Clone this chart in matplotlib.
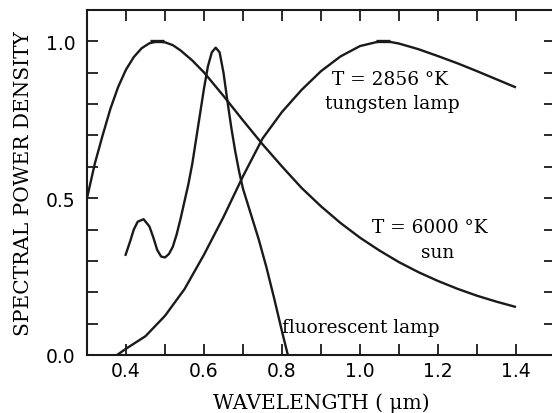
import matplotlib
matplotlib.use("Agg")
import matplotlib.pyplot as plt
from matplotlib.ticker import MultipleLocator, FixedLocator

# ---- data ----
sun_w = [0.30, 0.32, 0.34, 0.36, 0.38, 0.40, 0.42, 0.44, 0.46, 0.48, 0.50, 0.52,
         0.54, 0.57, 0.60, 0.65, 0.70, 0.75, 0.80, 0.85, 0.90, 0.95, 1.00, 1.05,
         1.10, 1.15, 1.20, 1.25, 1.30, 1.35, 1.40]
sun_v = [0.50, 0.61, 0.70, 0.785, 0.855, 0.91, 0.95, 0.978, 0.994, 1.0, 0.997, 0.988,
         0.971, 0.939, 0.901, 0.826, 0.748, 0.672, 0.601, 0.533, 0.474, 0.421, 0.374, 0.333,
         0.296, 0.264, 0.236, 0.211, 0.189, 0.170, 0.153]

tung_w = [0.377, 0.40, 0.45, 0.50, 0.55, 0.60, 0.65, 0.70, 0.75, 0.80, 0.85, 0.90,
          0.95, 1.00, 1.05, 1.07, 1.10, 1.15, 1.20, 1.25, 1.30, 1.35, 1.40]
tung_v = [0.0, 0.02, 0.06, 0.125, 0.21, 0.32, 0.44, 0.57, 0.69, 0.775, 0.845, 0.905,
          0.952, 0.985, 1.0, 1.0, 0.993, 0.975, 0.953, 0.93, 0.905, 0.879, 0.853]

fl_w = [0.398, 0.41, 0.42, 0.43, 0.445, 0.46, 0.47, 0.48, 0.49, 0.50, 0.51, 0.52,
        0.53, 0.54, 0.55, 0.56, 0.57, 0.58, 0.59, 0.60, 0.61, 0.62, 0.63, 0.64,
        0.65, 0.66, 0.67, 0.68, 0.69, 0.70, 0.72, 0.74, 0.76, 0.78, 0.80, 0.815]
fl_v = [0.316, 0.36, 0.40, 0.425, 0.433, 0.41, 0.375, 0.335, 0.314, 0.311, 0.322, 0.345,
        0.385, 0.435, 0.49, 0.545, 0.61, 0.69, 0.77, 0.85, 0.92, 0.965, 0.98, 0.965,
        0.90, 0.81, 0.725, 0.65, 0.585, 0.53, 0.45, 0.37, 0.28, 0.18, 0.075, 0.0]

peak_w = [0.48, 1.06]
peak_v = [1.0, 1.0]

x_ticks = [0.4, 0.6, 0.8, 1.0, 1.2, 1.4]
y_ticks = [0.0, 0.5, 1.0]

# ---- figure ----
plt.rcParams["font.family"] = ["DejaVu Sans"]
fig = plt.figure(figsize=(5.52, 4.14), dpi=100)
ax = fig.add_axes([87/552, 58/414, 468/552, 345/414])
ax.set_xlim(0.3, 1.5)
ax.set_ylim(0.0, 1.1)

lc = "#1a1a1a"
lw = 1.7
for w, v in ((sun_w, sun_v), (tung_w, tung_v), (fl_w, fl_v)):
    ax.plot(w, v, color=lc, lw=lw, solid_capstyle="butt", solid_joinstyle="round")
ax.plot(peak_w, peak_v, ls="none", marker="_", ms=10, mew=2.4, color=lc)

serif = ["DejaVu Serif"]

ax.xaxis.set_major_locator(FixedLocator(x_ticks))
ax.xaxis.set_minor_locator(MultipleLocator(0.1))
ax.yaxis.set_major_locator(FixedLocator(y_ticks))
ax.yaxis.set_minor_locator(MultipleLocator(0.1))
ax.set_xticklabels([f"{t:.1f}" for t in x_ticks], family="DejaVu Sans", fontsize=13.5)
ax.set_yticklabels([f"{t:.1f}" for t in y_ticks], family="DejaVu Sans", fontsize=13.5)
ax.tick_params(which="both", direction="in", top=True, right=True,
               length=8, width=1.3, color=lc)
ax.tick_params(axis="x", pad=4.5)
ax.tick_params(axis="y", pad=8.5)
for s in ax.spines.values():
    s.set_linewidth(1.5)
    s.set_color(lc)

ax.set_xlabel("WAVELENGTH ( μm)", family=serif, fontsize=14.5, labelpad=9)
ax.set_ylabel("SPECTRAL POWER DENSITY", family=serif, fontsize=14.5, labelpad=9)

fs = 13.3
ax.text(1.077, 0.880, "T = 2856 °K", family=serif, fontsize=fs, ha="center", va="center")
ax.text(1.082, 0.803, "tungsten lamp", family=serif, fontsize=fs, ha="center", va="center")
ax.text(1.180, 0.409, "T = 6000 °K", family=serif, fontsize=fs, ha="center", va="center")
ax.text(1.198, 0.329, "sun", family=serif, fontsize=fs, ha="center", va="center")
ax.text(1.003, 0.089, "fluorescent lamp", family=serif, fontsize=fs, ha="center", va="center")

fig.savefig("out.png", dpi=100)
